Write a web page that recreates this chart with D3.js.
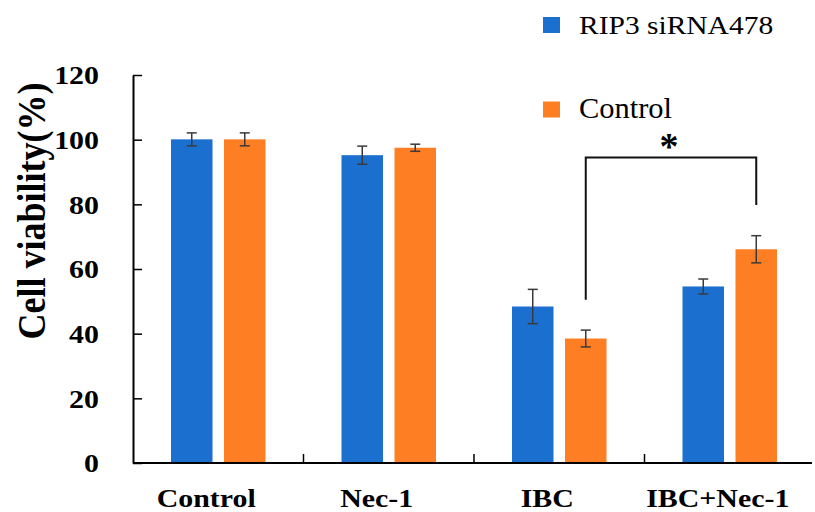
<!DOCTYPE html>
<html>
<head>
<meta charset="utf-8">
<script src="https://cdn.jsdelivr.net/npm/d3@7"></script>
<style>
  html, body { margin: 0; padding: 0; background: #fff; }
  svg { display: block; }
  text { font-family: "Liberation Serif", "Times New Roman", serif; fill: #000; }
</style>
</head>
<body>
<div id="chart"></div>
<script>
// Groups & series
const categories = ["Control", "Nec-1", "IBC", "IBC+Nec-1"];
const seriesNames = ["RIP3 siRNA478", "Control"];

// Mean viability (%) per category, one array per series
const rip3Values = [100.1, 95.2, 48.4, 54.6];
const controlValues = [100.1, 97.5, 38.5, 66.1];

// Error bar half-widths
const rip3Errors = [2.0, 2.8, 5.3, 2.3];
const controlErrors = [2.0, 1.1, 2.6, 4.2];

// Y axis ticks
const yTicks = [0, 20, 40, 60, 80, 100, 120];

// Significance bracket: from IBC/Control to IBC+Nec-1/Control
const bracketCats = ["IBC", "IBC+Nec-1"];
const bracketLevels = [50.5, 94.5, 79.8]; // left foot, top, right foot
const bracketLabel = "*";

const colors = ["#1a6fcf", "#fd7e23"];

const W = 815, H = 512;
const svg = d3.select("#chart").append("svg")
  .attr("width", W).attr("height", H);

const x0 = d3.scaleBand().domain(categories).range([133, 815]).padding(0);
const x1 = d3.scaleBand().domain(seriesNames).range([0, x0.bandwidth()])
  .paddingInner(0.217).paddingOuter(0.717);
const y = d3.scaleLinear().domain([0, 120]).range([463, 75]);

const values = [rip3Values, controlValues];
const errors = [rip3Errors, controlErrors];

const rows = [];
categories.forEach((c, i) => {
  seriesNames.forEach((s, j) => {
    rows.push({ cat: c, series: s, si: j, v: values[j][i], e: errors[j][i] });
  });
});

// bars
svg.append("g").selectAll("rect")
  .data(rows)
  .join("rect")
  .attr("x", d => x0(d.cat) + x1(d.series))
  .attr("y", d => y(d.v))
  .attr("width", x1.bandwidth())
  .attr("height", d => y(0) - y(d.v))
  .attr("fill", d => colors[d.si]);

// error bars
const eb = svg.append("g").attr("stroke", "#3a3a3a").attr("stroke-width", 1.5);
rows.forEach(d => {
  const cx = x0(d.cat) + x1(d.series) + x1.bandwidth() / 2;
  eb.append("line").attr("x1", cx).attr("x2", cx).attr("y1", y(d.v + d.e)).attr("y2", y(d.v - d.e));
  eb.append("line").attr("x1", cx - 5).attr("x2", cx + 5).attr("y1", y(d.v + d.e)).attr("y2", y(d.v + d.e));
  eb.append("line").attr("x1", cx - 5).attr("x2", cx + 5).attr("y1", y(d.v - d.e)).attr("y2", y(d.v - d.e));
});

// y axis (inner ticks)
const yAxis = svg.append("g")
  .attr("transform", "translate(133,0)")
  .call(d3.axisLeft(y).tickValues(yTicks).tickSizeInner(-9).tickSizeOuter(0).tickPadding(34));
yAxis.select(".domain").attr("stroke", "#000").attr("stroke-width", 2);
yAxis.selectAll(".tick line").attr("stroke", "#000").attr("stroke-width", 1.5);
yAxis.selectAll(".tick text")
  .attr("x", 0)
  .attr("dy", "0.34em")
  .attr("transform", "translate(-34,0) scale(1.15,1)")
  .style("font-size", "26px")
  .style("font-weight", "bold")
  .style("font-family", "'Liberation Serif', 'Times New Roman', serif")
  .attr("fill", "#000");

// x axis line
svg.append("line")
  .attr("x1", 133).attr("x2", 812)
  .attr("y1", y(0)).attr("y2", y(0))
  .attr("stroke", "#000").attr("stroke-width", 2);

// category boundary ticks (pointing up)
svg.append("g").selectAll("line")
  .data(categories.slice(1))
  .join("line")
  .attr("x1", d => x0(d)).attr("x2", d => x0(d))
  .attr("y1", y(0)).attr("y2", y(0) - 9)
  .attr("stroke", "#000").attr("stroke-width", 1.5);

// category labels
svg.append("g").selectAll("text")
  .data(categories)
  .join("text")
  .attr("transform", d => `translate(${x0(d) + x0.bandwidth() / 2 - 12},507) scale(1.15,1)`)
  .attr("text-anchor", "middle")
  .style("font-size", "26px")
  .style("font-weight", "bold")
  .text(d => d);

// y axis title
svg.append("text")
  .attr("transform", "translate(45,211) rotate(-90) scale(1,1.1)")
  .attr("text-anchor", "middle")
  .style("font-size", "36px")
  .style("font-weight", "bold")
  .text("Cell viability(%)");

// significance bracket
const bx = bracketCats.map(c => x0(c) + x1("Control") + x1.bandwidth() / 2);
const bracketPts = [
  [bx[0], y(bracketLevels[0])],
  [bx[0], y(bracketLevels[1])],
  [bx[1], y(bracketLevels[1])],
  [bx[1], y(bracketLevels[2])]
];
svg.append("path")
  .attr("d", d3.line()(bracketPts))
  .attr("fill", "none")
  .attr("stroke", "#111")
  .attr("stroke-width", 2);
svg.append("text")
  .attr("x", (bx[0] + bx[1]) / 2 - 2)
  .attr("y", y(bracketLevels[1]) + 2)
  .attr("text-anchor", "middle")
  .style("font-size", "38px")
  .style("font-weight", "bold")
  .text(bracketLabel);

// legend
const legendRows = [
  { y: 17, base: 34.3, size: 25, sx: 1.18 },
  { y: 101.5, base: 118.3, size: 29, sx: 1.05 }
];
const lg = svg.append("g");
seriesNames.forEach((s, i) => {
  const r = legendRows[i];
  lg.append("rect")
    .attr("x", 543).attr("y", r.y)
    .attr("width", 17).attr("height", 16)
    .attr("fill", colors[i]);
  lg.append("text")
    .attr("transform", `translate(579,${r.base}) scale(${r.sx},1)`)
    .style("font-size", r.size + "px")
    .text(s);
});
</script>
</body>
</html>
